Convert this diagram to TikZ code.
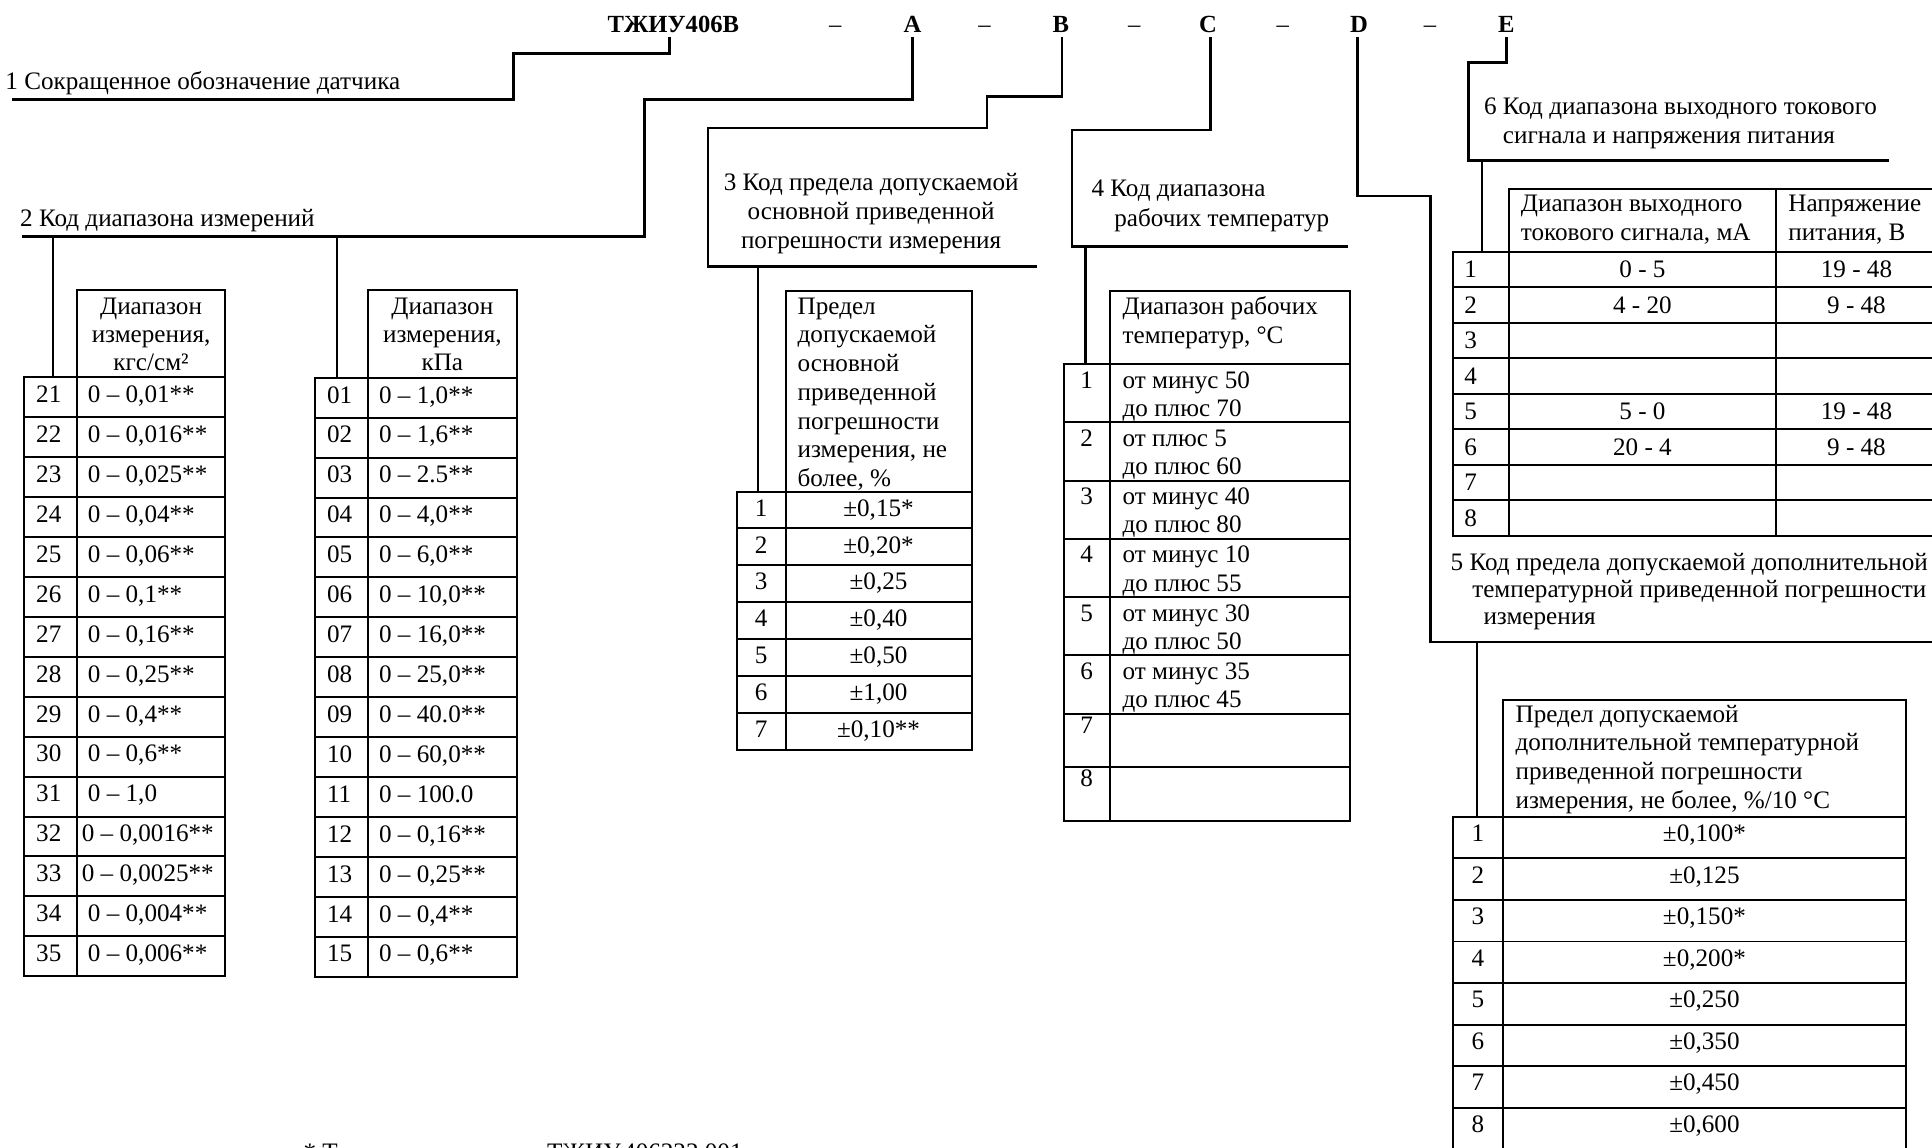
\documentclass[tikz,border=0pt]{standalone}
\usepackage{fontspec}
\setmainfont{Liberation Serif}
\newcommand\mlines[6]{% name, style, x, first baseline, dy, list
  \foreach \mytext [count=\k] in {#6}{%
    \node[#2] (#1-\k) at ({#3},{#4+(#5)*(\k-1)}) {\mytext};}}
\begin{document}
\begin{tikzpicture}[x=0.5pt,y=-0.5pt,
  every node/.style={inner sep=0pt, font=\fontsize{10.2}{12}\selectfont},
  txt/.style={anchor=base west},
  ctr/.style={anchor=base},
  ttl/.style={anchor=base, inner sep=1.8pt, font=\fontsize{10}{12}\selectfont\bfseries},
  dsh/.style={anchor=base, font=\fontsize{10}{12}\selectfont},
  conn/.style={line width=1.1pt},
  drop/.style={line width=0.9pt},
  grid/.style={line width=0.8pt}]
\useasboundingbox (0,0) rectangle (1568,931);
\fill[white] (0,0) rectangle (1568,931);

% ---------- title ----------
\node[ttl] (tT) at (546.5,26) {ТЖИУ406В};
\node[dsh] (m1) at (678,26) {–};
\node[ttl] (tA) at (740.6,26) {A};
\node[dsh] (m2) at (799,26) {–};
\node[ttl] (tB) at (861,26) {B};
\node[dsh] (m3) at (920.6,26) {–};
\node[ttl] (tC) at (980.5,26) {C};
\node[dsh] (m4) at (1041,26) {–};
\node[ttl] (tD) at (1103,26) {D};
\node[dsh] (m5) at (1160.5,26) {–};
\node[ttl] (tE) at (1222.5,26) {E};

% ---------- captions ----------
\node[txt] (c1) at (4,73) {1 Сокращенное обозначение датчика};
\node[txt] (c2) at (16,183.5) {2 Код диапазона измерений};
\mlines{c3}{ctr}{707}{154.5}{23.5}{{3 Код предела допускаемой},{основной приведенной},{погрешности измерения}}
\node[txt] (c4-1) at (885.5,159.5) {4 Код диапазона};
\node[txt] (c4-2) at (904,184) {рабочих температур};
\node[txt] (c5-1) at (1177,463) {5 Код предела допускаемой дополнительной};
\node[txt] (c5-2) at (1194.5,485) {температурной приведенной погрешности};
\node[txt] (c5-3) at (1203.6,507) {измерения};
\node[txt] (c6-1) at (1204,92.6) {6 Код диапазона выходного токового};
\node[txt] (c6-2) at (1219.4,116.4) {сигнала и напряжения питания};

% ---------- connectors ----------
\coordinate (k1a) at (416.7,43.3); \coordinate (k1b) at (10,81);
\draw[conn] ([xshift=-1.5pt]tT.south) |- (k1a) |- (k1b);
\coordinate (k2a) at (523,81); \coordinate (k2b) at (18,192);
\draw[conn] (tA.south) |- (k2a) |- (k2b);
\coordinate (k3a) at (801,78.5); \coordinate (k3b) at (574.6,104); \coordinate (k3c) at (842,216.4);
\draw[conn] ([xshift=0.5pt]tB.south) |- (k3a) |- (k3b) |- (k3c);
\coordinate (k4a) at (870,105.5); \coordinate (k4b) at (1094,200);
\draw[conn] ([xshift=1pt]tC.south) |- (k4a) |- (k4b);
\coordinate (k5a) at (1161,159); \coordinate (k5b) at (1570,521);
\draw[conn] ([xshift=-0.5pt]tD.south) |- (k5a) |- (k5b);
\coordinate (k6a) at (1192,51); \coordinate (k6b) at (1533,130.4);
\draw[conn] (tE.south) |- (k6a) |- (k6b);

% drops from caption lines to tables
\coordinate (d1a) at (42.8,192);   \coordinate (d1b) at (42.8,306.3);
\coordinate (d2a) at (273.6,192);  \coordinate (d2b) at (273.6,306.6);
\coordinate (d3a) at (615,216.4);  \coordinate (d3b) at (615,399);
\coordinate (d4a) at (881,200);    \coordinate (d4b) at (881,295.4);
\coordinate (d5a) at (1198.5,521); \coordinate (d5b) at (1198.5,663);
\coordinate (d6a) at (1203,130.4); \coordinate (d6b) at (1203,204.5);
\foreach \i in {1,...,6} \draw[drop] (d\i a) -- (d\i b);

% ---------- table 1 ----------
\draw[grid] (62.3,235.4) rectangle (183,306.3);
\draw[grid] (19.7,306.3) rectangle (183,792.3);
\draw[grid] (62.3,306.3) -- (62.3,792.3);
\foreach \k in {1,...,14} \draw[grid] (19.7,{306.3+32.4*\k}) -- (183,{306.3+32.4*\k});
\mlines{h1}{ctr}{122.6}{255.5}{22.5}{{Диапазон},{измерения,},{кгс/см²}}
\foreach \val/\xx [count=\k from 0] in {{0 – 0,01**}/71,{0 – 0,016**}/71,{0 – 0,025**}/71,{0 – 0,04**}/71,{0 – 0,06**}/71,{0 – 0,1**}/71,{0 – 0,16**}/71,{0 – 0,25**}/71,{0 – 0,4**}/71,{0 – 0,6**}/71,{0 – 1,0}/71,{0 – 0,0016**}/66,{0 – 0,0025**}/66,{0 – 0,004**}/71,{0 – 0,006**}/71}{%
  \pgfmathtruncatemacro\nn{21+\k}
  \node[txt] (t1n\nn) at (29,{306.3+32.4*\k+20.5}) {\nn};
  \node[txt] (t1v\nn) at (\xx,{306.3+32.4*\k+20.5}) {\val};
}

% ---------- table 2 ----------
\draw[grid] (298.6,235.4) rectangle (419.4,306.6);
\draw[grid] (256,306.6) rectangle (419.4,792.6);
\draw[grid] (298.6,306.6) -- (298.6,792.6);
\foreach \k in {1,...,14} \draw[grid] (256,{306.6+32.4*\k}) -- (419.4,{306.6+32.4*\k});
\mlines{h2}{ctr}{359}{255.5}{22.5}{{Диапазон},{измерения,},{кПа}}
\foreach \nn/\val [count=\k from 0] in {01/{0 – 1,0**},02/{0 – 1,6**},03/{0 – 2.5**},04/{0 – 4,0**},05/{0 – 6,0**},06/{0 – 10,0**},07/{0 – 16,0**},08/{0 – 25,0**},09/{0 – 40.0**},10/{0 – 60,0**},11/{0 – 100.0},12/{0 – 0,16**},13/{0 – 0,25**},14/{0 – 0,4**},15/{0 – 0,6**}}{%
  \node[txt] (t2n\nn) at (265,{306.6+32.4*\k+20.5}) {\nn};
  \node[txt] (t2v\nn) at (307.3,{306.6+32.4*\k+20.5}) {\val};
}

% ---------- table 3 ----------
\draw[grid] (637.8,236) rectangle (788.6,399);
\draw[grid] (597.8,399) rectangle (788.6,608.3);
\draw[grid] (637.8,399) -- (637.8,608.3);
\foreach \k in {1,...,6} \draw[grid] (597.8,{399+29.9*\k}) -- (788.6,{399+29.9*\k});
\mlines{h3}{txt}{647}{255}{23.3}{{Предел},{допускаемой},{основной},{приведенной},{погрешности},{измерения, не},{более, \%}}
\foreach \val [count=\k from 0] in {{±0,15*},{±0,20*},{±0,25},{±0,40},{±0,50},{±1,00},{±0,10**}}{%
  \pgfmathtruncatemacro\nn{\k+1}
  \node[ctr] (t3n\nn) at (617.8,{399+29.9*\k+20}) {\nn};
  \node[ctr] (t3v\nn) at (713,{399+29.9*\k+20}) {\val};
}

% ---------- table 4 ----------
\draw[grid] (900.6,236) rectangle (1095.7,295.4);
\draw[grid] (863.6,295.4) rectangle (1095.7,666);
\draw[grid] (900.6,295.4) -- (900.6,666);
\foreach \yy in {342.7,390,437.3,484.6,531.9,579.2,622.8} \draw[grid] (863.6,\yy) -- (1095.7,\yy);
\node[txt] (h4-1) at (910.7,255) {Диапазон рабочих};
\node[txt] (h4-2) at (910.7,279) {температур, °С};
\foreach \ta/\tb [count=\k from 0] in {от минус 50/до плюс 70,от плюс 5/до плюс 60,от минус 40/до плюс 80,от минус 10/до плюс 55,от минус 30/до плюс 50,от минус 35/до плюс 45}{%
  \pgfmathtruncatemacro\nn{\k+1}
  \node[ctr] (t4n\nn) at (882,{295.4+47.3*\k+19.5}) {\nn};
  \node[txt] (t4a\nn) at (910.7,{295.4+47.3*\k+19.5}) {\ta};
  \node[txt] (t4b\nn) at (910.7,{295.4+47.3*\k+42.5}) {\tb};
}
\node[ctr] (t4n7) at (882,595) {7};
\node[ctr] (t4n8) at (882,638.5) {8};

% ---------- table 5 ----------
\draw[grid] (1220,568) rectangle (1546.6,663);
\draw[grid] (1179,663) rectangle (1546.6,932.6);
\draw[grid] (1220,663) -- (1220,932.6);
\foreach \k in {1,...,7} \draw[grid] (1179,{663+33.7*\k}) -- (1546.6,{663+33.7*\k});
\mlines{h5}{txt}{1229.7}{586}{23.3}{{Предел допускаемой},{дополнительной температурной},{приведенной погрешности},{измерения, не более, \%/10 °С}}
\foreach \val [count=\k from 0] in {{±0,100*},{±0,125},{±0,150*},{±0,200*},{±0,250},{±0,350},{±0,450},{±0,600}}{%
  \pgfmathtruncatemacro\nn{\k+1}
  \node[ctr] (t5n\nn) at (1199.5,{663+33.7*\k+20}) {\nn};
  \node[ctr] (t5v\nn) at (1383.3,{663+33.7*\k+20}) {\val};
}

% ---------- table 6 ----------
\draw[grid] (1225,153.5) rectangle (1572,204.5);
\draw[grid] (1441.5,153.5) -- (1441.5,204.5);
\draw[grid] (1179,204.5) rectangle (1572,434.9);
\draw[grid] (1225,204.5) -- (1225,434.9);
\draw[grid] (1441.5,204.5) -- (1441.5,434.9);
\foreach \k in {1,...,7} \draw[grid] (1179,{204.5+28.8*\k}) -- (1572,{204.5+28.8*\k});
\node[txt] (h6a-1) at (1234,172) {Диапазон выходного};
\node[txt] (h6a-2) at (1234,195.5) {токового сигнала, мА};
\node[txt] (h6b-1) at (1451,172) {Напряжение};
\node[txt] (h6b-2) at (1451,195.5) {питания, В};
\foreach \k in {1,...,8} \node[txt] (t6n\k) at (1188,{204.5+28.8*(\k-1)+21}) {\k};
\foreach \nn/\va/\vb in {1/0 - 5/19 - 48,2/4 - 20/9 - 48,5/5 - 0/19 - 48,6/20 - 4/9 - 48}{%
  \node[ctr] (t6a\nn) at (1333,{204.5+28.8*(\nn-1)+21}) {\va};
  \node[ctr] (t6b\nn) at (1506.7,{204.5+28.8*(\nn-1)+21}) {\vb};
}

% ---------- footnote (cut by the page edge, as in the source) ----------
\node[txt] (fn) at (246,941.5) {* Только для датчиков ТЖИУ.406222.001};
\end{tikzpicture}
\end{document}
